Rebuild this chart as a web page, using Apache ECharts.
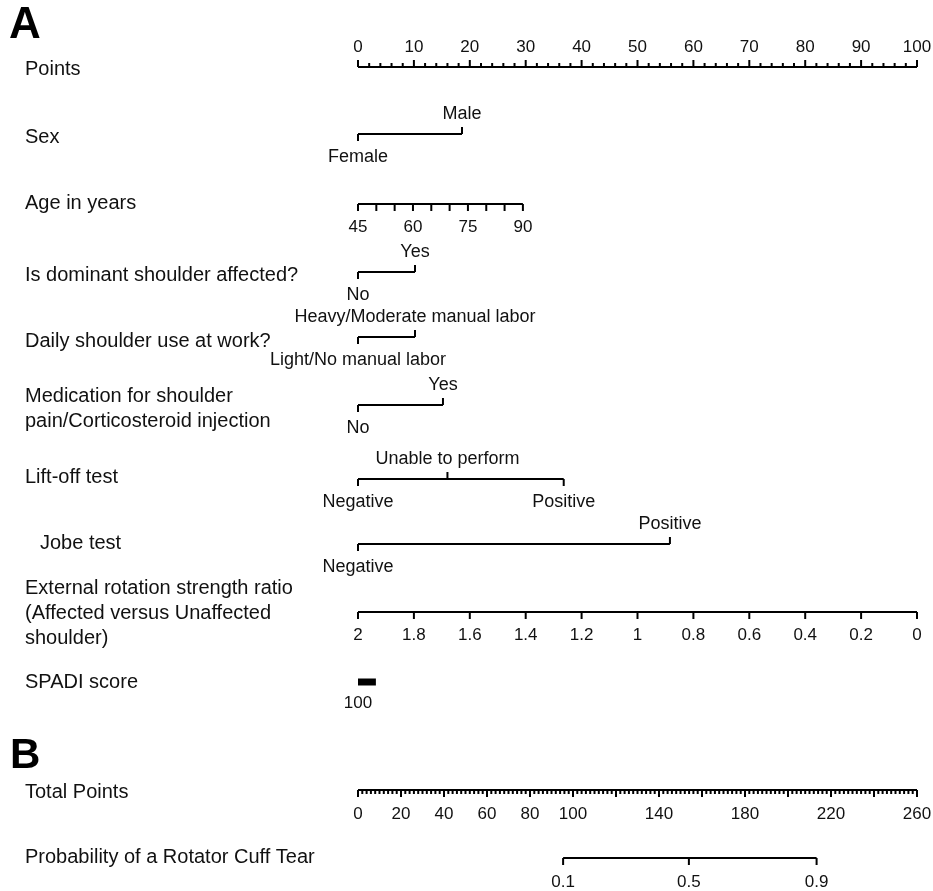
<!DOCTYPE html>
<html>
<head>
<meta charset="utf-8">
<title>Nomogram - Rotator Cuff Tear</title>
<script src="https://cdn.jsdelivr.net/npm/echarts@6/dist/echarts.min.js"></script>
<style>
html, body { margin: 0; padding: 0; background: #fff; }
#chart { width: 933px; height: 891px; }
</style>
</head>
<body>
<div id="chart"></div>
<script>
// ---- values ----
const pointsLabels = [0, 10, 20, 30, 40, 50, 60, 70, 80, 90, 100];
const pointsMinorStep = 2;

const sexLevels = ['Female', 'Male'];
const sexPoints = [0, 18.6];

const ageRange = [45, 90];
const agePoints = [0, 29.5];
const ageLabels = [45, 60, 75, 90];
const ageTickStep = 5;

const dominantLevels = ['No', 'Yes'];
const dominantPoints = [0, 10.2];

const workLevels = ['Light/No manual labor', 'Heavy/Moderate manual labor'];
const workPoints = [0, 10.2];

const medicationLevels = ['No', 'Yes'];
const medicationPoints = [0, 15.2];

const liftOffLevels = ['Negative', 'Unable to perform', 'Positive'];
const liftOffPoints = [0, 16.0, 36.8];

const jobeLevels = ['Negative', 'Positive'];
const jobePoints = [0, 55.8];

const ratioRange = [2, 0];
const ratioPoints = [0, 100];
const ratioLabels = [2, 1.8, 1.6, 1.4, 1.2, 1, 0.8, 0.6, 0.4, 0.2, 0];

const spadiLabels = ['100'];
const spadiPoints = [0, 3.2];

const totalMax = 260;
const totalLabels = [0, 20, 40, 60, 80, 100, 140, 180, 220, 260];
const totalMinorStep = 2;
const totalMajorStep = 20;

const probLabels = [0.1, 0.5, 0.9];
const probTotalPoints = [95.4, 153.9, 213.3];

const rowLabels = [
  'Points', 'Sex', 'Age in years', 'Is dominant shoulder affected?',
  'Daily shoulder use at work?',
  'Medication for shoulder\npain/Corticosteroid injection',
  'Lift-off test', 'Jobe test',
  'External rotation strength ratio\n(Affected versus Unaffected\nshoulder)',
  'SPADI score', 'Total Points', 'Probability of a Rotator Cuff Tear'
];

// ---- layout (pixels) ----
const rowLineY = [67, 134, 204, 272, 337, 405, 479, 544, 612, 682, 790, 858];
const rowLabelY = [69, 137, 203, 275, 341, 409, 477, 543, 613, 682, 792, 857];
const rowLabelX = [25, 25, 25, 25, 25, 25, 25, 40, 25, 25, 25, 25];

const TEXT = '#111';
const INK = '#000';
const FAMILY = '"Liberation Sans", Arial, Helvetica, sans-serif';
const tickFont = '17px ' + FAMILY;
const levelFont = '18px ' + FAMILY;
const rowFont = '20px ' + FAMILY;

function lerp(v, d, r) { return r[0] + (v - d[0]) / (d[1] - d[0]) * (r[1] - r[0]); }
function steps(a, b, s) { const out = []; for (let v = a; v <= b + 1e-9; v += s) out.push(Math.round(v * 1000) / 1000); return out; }
const totalToPoints = v => v / totalMax * 100;

// two or three level factor: labels alternate below / above the line
function categorical(y, levels, pts) {
  return {
    y: y,
    line: [Math.min.apply(null, pts), Math.max.apply(null, pts)],
    ticks: pts.map((p, i) => ({ p: p, len: i % 2 === 0 ? 7 : -7 })),
    labels: levels.map((t, i) => ({ p: pts[i], text: t, dy: i % 2 === 0 ? 23 : -20, font: levelFont }))
  };
}

const rows = [
  {
    y: rowLineY[0], line: [0, 100],
    ticks: steps(0, 100, pointsMinorStep).map(v => ({ p: v, len: v % 10 === 0 ? -7 : -4 })),
    labels: pointsLabels.map(v => ({ p: v, text: String(v), dy: -20, font: tickFont }))
  },
  categorical(rowLineY[1], sexLevels, sexPoints),
  {
    y: rowLineY[2], line: agePoints,
    ticks: steps(ageRange[0], ageRange[1], ageTickStep).map(a => ({ p: lerp(a, ageRange, agePoints), len: 7 })),
    labels: ageLabels.map(a => ({ p: lerp(a, ageRange, agePoints), text: String(a), dy: 23, font: tickFont }))
  },
  categorical(rowLineY[3], dominantLevels, dominantPoints),
  categorical(rowLineY[4], workLevels, workPoints),
  categorical(rowLineY[5], medicationLevels, medicationPoints),
  categorical(rowLineY[6], liftOffLevels, liftOffPoints),
  categorical(rowLineY[7], jobeLevels, jobePoints),
  {
    y: rowLineY[8], line: ratioPoints,
    ticks: ratioLabels.map(v => ({ p: lerp(v, ratioRange, ratioPoints), len: 7 })),
    labels: ratioLabels.map(v => ({ p: lerp(v, ratioRange, ratioPoints), text: String(v), dy: 23, font: tickFont }))
  },
  {
    y: rowLineY[9], line: spadiPoints, width: 7, ticks: [],
    labels: spadiLabels.map(t => ({ p: spadiPoints[0], text: t, dy: 21, font: tickFont }))
  },
  {
    y: rowLineY[10], line: [0, 100],
    ticks: steps(0, totalMax, totalMinorStep).map(v => ({ p: totalToPoints(v), len: v % totalMajorStep === 0 ? 7 : 4 })),
    labels: totalLabels.map(v => ({ p: totalToPoints(v), text: String(v), dy: 24, font: tickFont }))
  },
  {
    y: rowLineY[11],
    line: [totalToPoints(probTotalPoints[0]), totalToPoints(probTotalPoints[probTotalPoints.length - 1])],
    ticks: probTotalPoints.map(v => ({ p: totalToPoints(v), len: 7 })),
    labels: probLabels.map((t, i) => ({ p: totalToPoints(probTotalPoints[i]), text: String(t), dy: 24, font: tickFont }))
  }
];

const chart = echarts.init(document.getElementById('chart'));

const renderRow = function (params, api) {
  const row = rows[params.dataIndex];
  const px = p => api.coord([p, row.y]);
  const children = [];
  const a = px(row.line[0]), b = px(row.line[1]);
  children.push({
    type: 'line',
    shape: { x1: a[0], y1: a[1], x2: b[0], y2: b[1] },
    style: { stroke: INK, lineWidth: row.width || 2 }
  });
  row.ticks.forEach(t => {
    const c = px(t.p);
    children.push({
      type: 'line',
      shape: { x1: c[0], y1: c[1], x2: c[0], y2: c[1] + t.len },
      style: { stroke: INK, lineWidth: 2 }
    });
  });
  row.labels.forEach(l => {
    const c = px(l.p);
    children.push({
      type: 'text',
      style: { text: l.text, x: c[0], y: c[1] + l.dy, align: 'center', verticalAlign: 'middle', font: l.font, fill: TEXT }
    });
  });
  return { type: 'group', children: children };
};

const option = {
  animation: false,
  backgroundColor: '#fff',
  grid: { left: 358, right: 16, top: 0, bottom: 0 },
  xAxis: { type: 'value', min: 0, max: 100, show: false },
  yAxis: { type: 'value', min: 0, max: 891, inverse: true, show: false },
  graphic: rowLabels.map((t, i) => ({
    type: 'text', x: rowLabelX[i], y: rowLabelY[i],
    style: { text: t, font: rowFont, fill: TEXT, verticalAlign: 'middle', lineHeight: 25 }
  })).concat([
    { type: 'text', x: 9, y: 26, style: { text: 'A', font: 'bold 44px ' + FAMILY, fill: INK, verticalAlign: 'middle' } },
    { type: 'text', x: 10, y: 756, style: { text: 'B', font: 'bold 42px ' + FAMILY, fill: INK, verticalAlign: 'middle' } }
  ]),
  series: [{
    type: 'custom',
    coordinateSystem: 'cartesian2d',
    clip: false,
    silent: true,
    data: rows.map((r, i) => [i, r.y]),
    renderItem: renderRow
  }]
};

chart.setOption(option);
</script>
</body>
</html>
